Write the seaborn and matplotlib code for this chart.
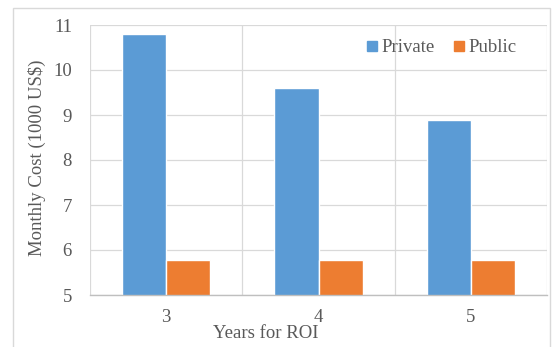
import matplotlib
matplotlib.use("Agg")
import matplotlib.pyplot as plt
import seaborn as sns
import pandas as pd
from matplotlib.patches import Rectangle
from matplotlib.lines import Line2D

years = ["3", "4", "5"]
private_cost = [10.8, 9.6, 8.88]
public_cost = [5.77, 5.77, 5.77]
series_names = ["Private", "Public"]
y_ticks = [5, 6, 7, 8, 9, 10, 11]

df = pd.DataFrame({
    "Years": years * 2,
    "Cost": private_cost + public_cost,
    "Type": [series_names[0]] * len(years) + [series_names[1]] * len(years),
})

sns.set_theme(style="white")
plt.rcParams["font.family"] = ["Liberation Serif", "DejaVu Serif"]
text_color = "#595959"
colors = ["#5B9BD5", "#ED7D31"]
fs = 13.5

fig = plt.figure(figsize=(5.57, 3.47), dpi=100)
ax = fig.add_axes([90 / 557, 1 - 295 / 347, (547 - 90) / 557, (295 - 25) / 347])

sns.barplot(data=df, x="Years", y="Cost", hue="Type", palette=colors,
            width=0.58, gap=0, ax=ax, legend=False, saturation=1)

ax.set_ylim(5, 11)
ax.set_xlim(-0.5, 2.5)
ax.set_yticks(y_ticks)
ax.set_yticklabels([str(t) for t in y_ticks])
ax.set_xticks(range(len(years)))
ax.set_xticklabels(years)
ax.set_xticks([-0.5, 0.5, 1.5, 2.5], minor=True)
ax.grid(axis="y", which="major", color="#D9D9D9", linewidth=0.9)
ax.grid(axis="x", which="minor", color="#D9D9D9", linewidth=0.9)
ax.grid(axis="x", which="major", visible=False)
ax.set_axisbelow(True)
for s in ["top", "right", "left"]:
    ax.spines[s].set_visible(False)
ax.spines["bottom"].set_color("#BFBFBF")
ax.spines["bottom"].set_linewidth(1.0)
ax.tick_params(axis="both", which="both", length=0, labelsize=fs, colors=text_color)
ax.tick_params(axis="x", pad=10)
ax.tick_params(axis="y", pad=13)

ax.set_xlabel("Years for ROI", fontsize=fs, color=text_color)
ax.xaxis.set_label_coords((266 - 90) / 457, -(333 - 295) / 270)
ax.xaxis.label.set_va("center")
ax.set_ylabel("Monthly Cost (1000 US$)", fontsize=fs, color=text_color)
ax.yaxis.set_label_coords((37 - 90) / 457, 0.51)
ax.yaxis.label.set_va("center")

handles = [Line2D([0], [0], marker="s", linestyle="none", markersize=7,
                  markerfacecolor=c, markeredgecolor=c) for c in colors]
leg = ax.legend(handles, series_names, ncol=2, frameon=False, loc="upper right",
                bbox_to_anchor=(0.958, 0.99), fontsize=fs, handletextpad=0.1,
                columnspacing=0.9, handlelength=0.8, borderaxespad=0.2)
for t in leg.get_texts():
    t.set_color(text_color)

fig.patches.append(Rectangle((13 / 557, -0.05), (550 - 13) / 557, 1 - 8 / 347 + 0.05,
                             transform=fig.transFigure, fill=False,
                             edgecolor="#D9D9D9", linewidth=1.0))

fig.savefig("out.png", dpi=100)
